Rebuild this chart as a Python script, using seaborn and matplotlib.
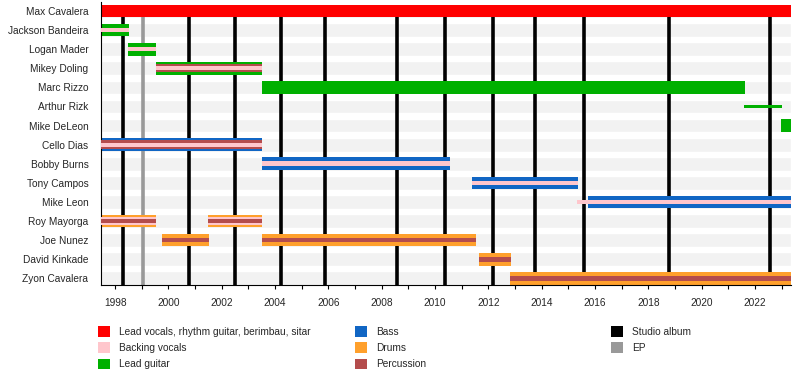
import matplotlib
matplotlib.use("Agg")
import matplotlib.pyplot as plt
from matplotlib.patches import Patch
import seaborn as sns

sns.set_theme(style="white")
plt.rcParams['font.family'] = ['Liberation Sans', 'DejaVu Sans']

# members, top to bottom
members = ["Max Cavalera", "Jackson Bandeira", "Logan Mader", "Mikey Doling",
           "Marc Rizzo", "Arthur Rizk", "Mike DeLeon", "Cello Dias",
           "Bobby Burns", "Tony Campos", "Mike Leon", "Roy Mayorga",
           "Joe Nunez", "David Kinkade", "Zyon Cavalera"]

# spans: first listed role of an overlapping group is the outer bar
span_member = ["Max Cavalera",
               "Jackson Bandeira", "Jackson Bandeira",
               "Logan Mader", "Logan Mader",
               "Mikey Doling", "Mikey Doling", "Mikey Doling",
               "Marc Rizzo",
               "Arthur Rizk",
               "Mike DeLeon",
               "Cello Dias", "Cello Dias", "Cello Dias",
               "Bobby Burns", "Bobby Burns",
               "Tony Campos", "Tony Campos",
               "Mike Leon", "Mike Leon",
               "Roy Mayorga", "Roy Mayorga", "Roy Mayorga",
               "Roy Mayorga", "Roy Mayorga", "Roy Mayorga",
               "Joe Nunez", "Joe Nunez", "Joe Nunez", "Joe Nunez",
               "David Kinkade", "David Kinkade",
               "Zyon Cavalera", "Zyon Cavalera"]
span_role = ["Lead vocals",
             "Lead guitar", "Backing vocals",
             "Lead guitar", "Backing vocals",
             "Lead guitar", "Percussion", "Backing vocals",
             "Lead guitar",
             "Lead guitar (live)",
             "Lead guitar",
             "Bass", "Percussion", "Backing vocals",
             "Bass", "Backing vocals",
             "Bass", "Backing vocals",
             "Bass", "Backing vocals",
             "Drums", "Backing vocals", "Percussion",
             "Drums", "Backing vocals", "Percussion",
             "Drums", "Percussion", "Drums", "Percussion",
             "Drums", "Percussion",
             "Drums", "Percussion"]
span_start = [1997.47,
              1997.47, 1997.47,
              1998.50, 1998.50,
              1999.52, 1999.52, 1999.52,
              2003.50,
              2021.60,
              2022.97,
              1997.47, 1997.47, 1997.47,
              2003.50, 2003.50,
              2011.39, 2011.39,
              2015.74, 2015.33,
              1997.47, 1997.47, 1997.47,
              2001.49, 2001.49, 2001.49,
              1999.77, 1999.77, 2003.50, 2003.50,
              2011.65, 2011.65,
              2012.82, 2012.82]
span_end = [2023.35,
            1998.52, 1998.52,
            1999.54, 1999.54,
            2003.52, 2003.52, 2003.52,
            2021.63,
            2023.01,
            2023.35,
            2003.52, 2003.52, 2003.52,
            2010.56, 2010.56,
            2015.36, 2015.36,
            2023.35, 2023.35,
            1999.54, 1999.54, 1999.54,
            2003.52, 2003.52, 2003.52,
            2001.53, 2001.53, 2011.54, 2011.54,
            2012.85, 2012.85,
            2023.35, 2023.35]

studio_albums = [1998.30, 2000.76, 2002.50, 2004.23, 2005.88, 2008.58,
                 2010.38, 2012.18, 2013.75, 2015.59, 2018.78, 2022.56]
eps = [1999.05]

role_colors = {
    "Lead vocals": "#ff0000",
    "Backing vocals": "#ffc6cc",
    "Lead guitar": "#00b000",
    "Lead guitar (live)": "#00b000",
    "Bass": "#1166c4",
    "Drums": "#ffa02c",
    "Percussion": "#b44c4c",
}
legend_roles = [["Lead vocals, rhythm guitar, berimbau, sitar", "Backing vocals", "Lead guitar"],
                ["Bass", "Drums", "Percussion"],
                ["Studio album", "EP"]]
legend_colors = [["#ff0000", "#ffc6cc", "#00b000"],
                 ["#1166c4", "#ffa02c", "#b44c4c"],
                 ["#000000", "#999999"]]

fig = plt.figure(figsize=(8, 3.85), dpi=100)
ax = fig.add_axes([0.12625, 0.2597, 0.8625, 0.735])

x0, x1 = 1997.47, 2023.35
y_bottom, y_top = 14.35, -0.47
ypos = {m: i for i, m in enumerate(members)}

# background bands
ax.barh(range(len(members)), [x1 - x0] * len(members), left=x0, height=0.72,
        color="#f2f2f2", zorder=0)

# release lines start below the top row
ax.vlines(studio_albums, 0, y_bottom, color="black", lw=2.6, zorder=1)
ax.vlines(eps, 0, y_bottom, color="#999999", lw=2.6, zorder=1)

# layering of overlapping spans
heights2 = [0.66, 0.24]
heights3 = [0.66, 0.44, 0.21]
for i, (m, r, s, e) in enumerate(zip(span_member, span_role, span_start, span_end)):
    group = [j for j in range(len(span_member))
             if span_member[j] == m and span_start[j] < e and span_end[j] > s]
    layer = group.index(i)
    n = len(group)
    if r == "Lead guitar (live)":
        h = 0.15
    elif n == 3:
        h = heights3[layer]
    elif n == 2:
        h = heights2[layer]
    else:
        h = 0.66
    ax.barh(ypos[m], e - s, left=s, height=h, color=role_colors[r],
            zorder=2 + layer, linewidth=0)

ax.set_xlim(x0, x1)
ax.set_ylim(y_bottom, y_top)
ax.set_yticks(range(len(members)))
ax.set_yticklabels(members)
ax.set_xticks(range(1998, 2023, 2))
ax.set_xticks(range(1998, 2024), minor=True)
ax.tick_params(axis="x", which="both", bottom=True, length=3, width=0.8,
               color="black", labelsize=7.3, pad=6)
ax.tick_params(axis="y", left=False, length=0, labelsize=7.3, pad=9)
for s in ["top", "right"]:
    ax.spines[s].set_visible(False)
for s in ["left", "bottom"]:
    ax.spines[s].set_color("black")
    ax.spines[s].set_linewidth(0.8)

col_x = [98 / 800, 355 / 800, 611 / 800]
for cx, labels, cols in zip(col_x, legend_roles, legend_colors):
    handles = [Patch(facecolor=c, edgecolor="none", label=l) for l, c in zip(labels, cols)]
    fig.legend(handles=handles, loc="upper left", bbox_to_anchor=(cx, 1 - 326 / 385),
               frameon=False, fontsize=7.3, handlelength=1.15, handleheight=1.25,
               handletextpad=0.95, labelspacing=0.55, borderpad=0, borderaxespad=0)

fig.savefig("out.png", dpi=100)
